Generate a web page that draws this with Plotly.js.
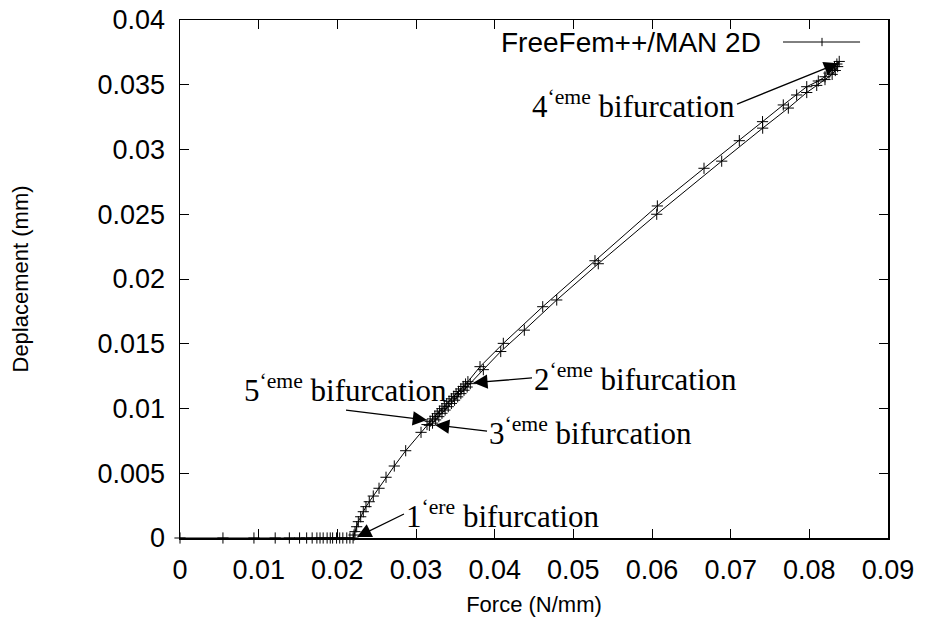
<!DOCTYPE html>
<html>
<head>
<meta charset="utf-8">
<script src="https://cdn.plot.ly/plotly-3.0.1.min.js"></script>
<style>html,body{margin:0;padding:0;background:#fff;}#chart{width:930px;height:628px;}</style>
</head>
<body>
<div id="chart"></div>
<script>
// Flat part on y = 0
const flatX = [0, 0.00546, 0.0094, 0.0121, 0.0139, 0.0152, 0.0161, 0.0168, 0.0174, 0.0178, 0.0182, 0.0187, 0.0191, 0.0194, 0.0199, 0.0203, 0.0207, 0.0212, 0.0216, 0.0220];
const flatY = [0, 0, 0, 0, 0, 0, 0, 0, 0, 0, 0, 0, 0, 0, 0, 0, 0, 0, 0, 0];
// Rising curve after 1st bifurcation
const riseX = [0.02212, 0.02225, 0.02246, 0.02267, 0.02297, 0.02330, 0.02364, 0.02406, 0.02457, 0.02530, 0.02619, 0.02724, 0.02869, 0.03064];
const riseY = [0.00023, 0.00049, 0.00087, 0.00126, 0.00164, 0.00203, 0.00242, 0.00280, 0.00324, 0.00384, 0.00469, 0.00556, 0.00674, 0.00816];
// Dense cluster (2nd/3rd/5th bifurcations), going up
const clusterUpX = [0.0314, 0.0318, 0.0321, 0.0324, 0.0327, 0.0330, 0.0333, 0.0336, 0.0339, 0.0342, 0.0345, 0.0348, 0.0351, 0.0354, 0.0357, 0.0360, 0.0363, 0.0366];
const clusterUpY = [0.00876, 0.00901, 0.00920, 0.00940, 0.00960, 0.00980, 0.00999, 0.01018, 0.01037, 0.01056, 0.01075, 0.01094, 0.01113, 0.01132, 0.01151, 0.01170, 0.01189, 0.01207];
// Upper branch towards 4th bifurcation
const upperX = [0.03814, 0.04110, 0.04611, 0.05275, 0.06068, 0.06661, 0.07110, 0.07405, 0.07669, 0.07839, 0.07967, 0.08114, 0.08199, 0.0825, 0.0829, 0.0832, 0.0835, 0.0838];
const upperY = [0.01323, 0.01503, 0.01786, 0.02141, 0.02564, 0.02855, 0.03068, 0.03215, 0.03344, 0.03421, 0.03485, 0.03529, 0.03562, 0.0359, 0.0362, 0.0364, 0.0366, 0.0368];
// Lower branch coming back
const lowerX = [0.0836, 0.0833, 0.0829, 0.08199, 0.08094, 0.07967, 0.07733, 0.07407, 0.06886, 0.06060, 0.05317, 0.04789, 0.04377, 0.04077, 0.03856];
const lowerY = [0.0364, 0.0361, 0.0358, 0.03540, 0.03495, 0.03440, 0.03320, 0.03165, 0.02910, 0.02500, 0.02118, 0.01838, 0.01605, 0.01440, 0.01300];
// Dense cluster, going down
const clusterDownX = [0.0369, 0.0365, 0.0361, 0.0357, 0.0353, 0.0349, 0.0345, 0.0341, 0.0337, 0.0333, 0.0329, 0.0325, 0.0321, 0.0317];
const clusterDownY = [0.01192, 0.01166, 0.01141, 0.01115, 0.01090, 0.01064, 0.01039, 0.01014, 0.00988, 0.00963, 0.00937, 0.00912, 0.00887, 0.00870];

const xTickVals = [0, 0.01, 0.02, 0.03, 0.04, 0.05, 0.06, 0.07, 0.08, 0.09];
const xTickText = ["0", "0.01", "0.02", "0.03", "0.04", "0.05", "0.06", "0.07", "0.08", "0.09"];
const yTickVals = [0, 0.005, 0.01, 0.015, 0.02, 0.025, 0.03, 0.035, 0.04];
const yTickText = ["0", "0.005", "0.01", "0.015", "0.02", "0.025", "0.03", "0.035", "0.04"];

const seriesName = "FreeFem++/MAN 2D";

// Bifurcation labels: text anchored at the arrow tail, arrow pointing to the head
const bifLabels = ["1<sup>‘ere</sup> bifurcation", "2<sup>‘eme</sup> bifurcation", "3<sup>‘eme</sup> bifurcation", "4<sup>‘eme</sup> bifurcation", "5<sup>‘eme</sup> bifurcation"];
const bifTailX = [0.02847, 0.04475, 0.03903, 0.07081, 0.0211];
const bifTailY = [0.00185, 0.01236, 0.00826, 0.03351, 0.00988];
const bifXAnchor = ['left', 'left', 'left', 'right', 'center'];
const bifYAnchor = ['middle', 'middle', 'middle', 'middle', 'bottom'];
const bifHeadX = [0.0225, 0.03728, 0.03242, 0.08368, 0.0314];
const bifHeadY = [0.00008, 0.01199, 0.00873, 0.03666, 0.00911];

const xs = [].concat(flatX, riseX, clusterUpX, upperX, lowerX, clusterDownX);
const ys = [].concat(flatY, riseY, clusterUpY, upperY, lowerY, clusterDownY);

const trace = {
  x: xs, y: ys, type: 'scatter', mode: 'lines+markers', name: seriesName,
  line: {color: '#000', width: 1},
  marker: {symbol: 'cross-thin-open', size: 8, color: '#000', line: {color: '#000', width: 1}},
  showlegend: false, cliponaxis: false
};

const titleFont = {family: 'Liberation Sans, Arial, Helvetica, sans-serif', size: 22, color: '#000'};
const tickFont = {family: 'Liberation Sans, Arial, Helvetica, sans-serif', size: 27, color: '#000'};
const legendFont = {family: 'Liberation Sans, Arial, Helvetica, sans-serif', size: 28, color: '#000'};
const serifFont = {family: 'Liberation Serif, Times New Roman, serif', size: 31, color: '#000'};

const annotations = [];
for (let i = 0; i < bifLabels.length; i++) {
  annotations.push({
    x: bifHeadX[i], y: bifHeadY[i], xref: 'x', yref: 'y',
    ax: bifTailX[i], ay: bifTailY[i], axref: 'x', ayref: 'y',
    xanchor: bifXAnchor[i], yanchor: bifYAnchor[i],
    text: bifLabels[i], showarrow: true, arrowhead: 2, arrowsize: 2.2, arrowwidth: 1.3,
    arrowcolor: '#000', standoff: 0, startstandoff: 0, font: serifFont
  });
}
// legend text (gnuplot style: text left of the sample)
annotations.push({
  x: 0.8234, y: 0.9575, xref: 'paper', yref: 'paper', xanchor: 'right', yanchor: 'middle',
  text: seriesName, showarrow: false, font: legendFont
});

const shapes = [
  {type: 'line', xref: 'paper', yref: 'paper', x0: 0.8517, x1: 0.9605, y0: 0.9575, y1: 0.9575, line: {color: '#000', width: 1}},
  {type: 'line', xref: 'paper', yref: 'paper', x0: 0.9068, x1: 0.9068, y0: 0.9495, y1: 0.9655, line: {color: '#000', width: 1}}
];

const axisCommon = {
  showgrid: false, zeroline: false, showline: true, linecolor: '#000', linewidth: 1.5,
  mirror: 'allticks', ticks: 'inside', ticklen: 9, tickwidth: 1, tickcolor: '#000',
  tickfont: tickFont, tickmode: 'array'
};

const layout = {
  width: 930, height: 628,
  margin: {l: 180, r: 42, t: 20, b: 90},
  paper_bgcolor: '#fff', plot_bgcolor: '#fff',
  showlegend: false,
  xaxis: Object.assign({}, axisCommon, {
    range: [0, 0.09], tickvals: xTickVals, ticktext: xTickText, ticklabelstandoff: 7,
    title: {text: 'Force (N/mm)', font: titleFont, standoff: 12}
  }),
  yaxis: Object.assign({}, axisCommon, {
    range: [0, 0.04], tickvals: yTickVals, ticktext: yTickText, ticklabelstandoff: 8,
    title: {text: 'Deplacement (mm)', font: titleFont, standoff: 63}
  }),
  annotations: annotations,
  shapes: shapes
};

Plotly.newPlot('chart', [trace], layout, {displayModeBar: false, staticPlot: true});
</script>
</body>
</html>
